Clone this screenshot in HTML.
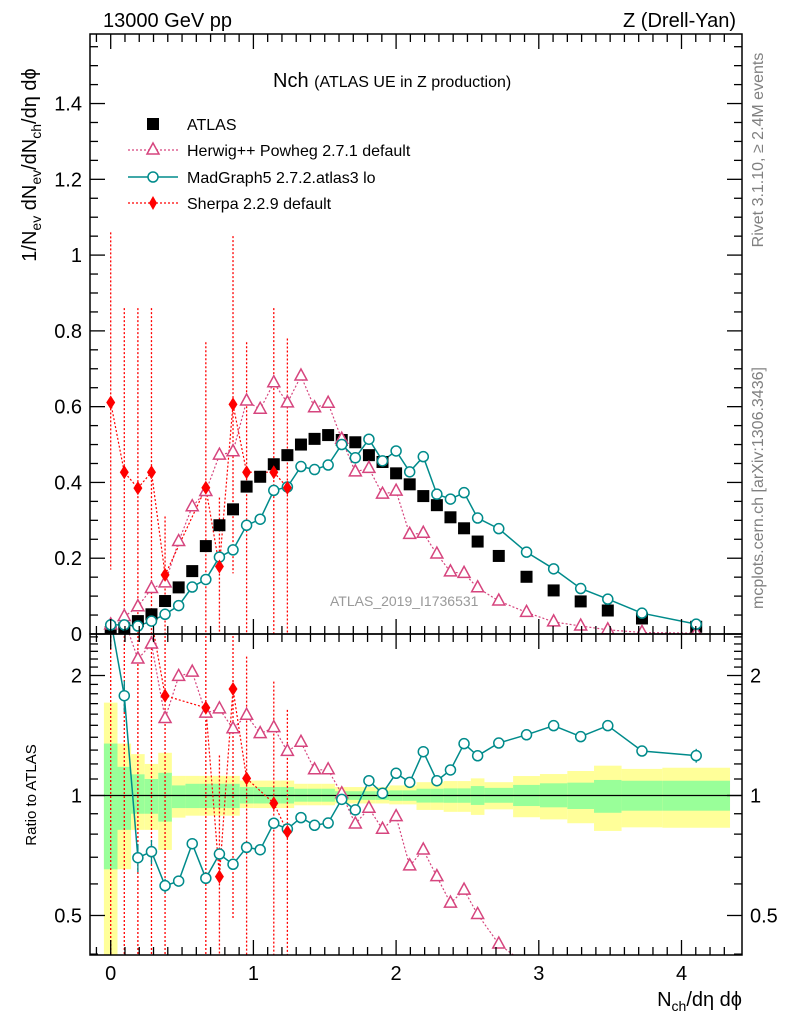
<!DOCTYPE html>
<html><head><meta charset="utf-8">
<style>
html,body{margin:0;padding:0;background:#fff;width:786px;height:1024px;overflow:hidden;}
svg{display:block;font-family:"Liberation Sans",sans-serif;}
</style></head>
<body>
<svg id="chart" width="786" height="1024" viewBox="0 0 786 1024" xmlns="http://www.w3.org/2000/svg">
<defs>
<clipPath id="clipMain"><rect x="90" y="34" width="652" height="600"/></clipPath>
<clipPath id="clipRatio"><rect x="90" y="634" width="652" height="321"/></clipPath>
</defs>
<g id="bands" clip-path="url(#clipRatio)"></g>
<line x1="90" y1="795.5" x2="742" y2="795.5" stroke="#000" stroke-width="1.3"/>
<g id="mainG" clip-path="url(#clipMain)"></g>
<g id="ratioG" clip-path="url(#clipRatio)"></g>
<rect x="90" y="34" width="652" height="600" fill="none" stroke="#000" stroke-width="1.5"/>
<rect x="90" y="634" width="652" height="321" fill="none" stroke="#000" stroke-width="1.5"/>
<g id="axes"></g>

<text x="103" y="27" font-size="20">13000 GeV pp</text>
<text x="736" y="27" font-size="20" text-anchor="end">Z (Drell-Yan)</text>
<text x="273" y="87" font-size="20">Nch <tspan font-size="16">(ATLAS UE in Z production)</tspan></text>
<text x="330" y="606" font-size="14" fill="#999">ATLAS_2019_I1736531</text>

<g>
  <g>
    <rect x="147" y="118" width="12" height="12" fill="#000"/>
    <text x="187" y="130" font-size="16">ATLAS</text>
  </g>
  <g>
    <line x1="128" y1="150" x2="178" y2="150" stroke="#d6457e" stroke-width="1.2" stroke-dasharray="2,2"/>
    <path d="M153,143 L159,154 L147,154 Z" fill="#fff" stroke="#d6457e" stroke-width="1.5"/>
    <text x="187" y="156" font-size="16">Herwig++ Powheg 2.7.1 default</text>
  </g>
  <g>
    <line x1="128" y1="177" x2="178" y2="177" stroke="#008b8b" stroke-width="1.5"/>
    <circle cx="153" cy="177" r="5" fill="#fff" stroke="#008b8b" stroke-width="1.5"/>
    <text x="187" y="183" font-size="16">MadGraph5 2.7.2.atlas3 lo</text>
  </g>
  <g>
    <line x1="128" y1="203" x2="178" y2="203" stroke="#ff0000" stroke-width="1.2" stroke-dasharray="2,2"/>
    <path d="M153,196 L157,203 L153,210 L149,203 Z" fill="#ff0000"/>
    <text x="187" y="209" font-size="16">Sherpa 2.2.9 default</text>
  </g>
</g>

<text transform="translate(36,165) rotate(-90)" font-size="20" text-anchor="middle">1/N<tspan font-size="14" dy="5">ev</tspan><tspan dy="-5"> dN</tspan><tspan font-size="14" dy="5">ev</tspan><tspan dy="-5">/dN</tspan><tspan font-size="14" dy="5">ch</tspan><tspan dy="-5">/dη dϕ</tspan></text>
<text transform="translate(36,795) rotate(-90)" font-size="15" text-anchor="middle">Ratio to ATLAS</text>
<text x="742" y="1006" font-size="20" text-anchor="end">N<tspan font-size="14" dy="5">ch</tspan><tspan dy="-5">/dη dϕ</tspan></text>
<text transform="translate(763,150) rotate(-90)" font-size="16" fill="#808080" text-anchor="middle">Rivet 3.1.10, ≥ 2.4M events</text>
<text transform="translate(763,488) rotate(-90)" font-size="16" fill="#808080" text-anchor="middle">mcplots.cern.ch [arXiv:1306.3436]</text>
</svg>
<script>
const binEdges=[-0.0476,0.0476,0.1429,0.2381,0.3333,0.4286,0.5238,0.619,0.7143,0.8095,0.9048,1.0,1.0952,1.1905,1.2857,1.381,1.4762,1.5714,1.6667,1.7619,1.8571,1.9524,2.0476,2.1429,2.2381,2.3333,2.4286,2.5238,2.619,2.82,3.008,3.2,3.387,3.58,3.866,4.34];
const atlasVals=[0.005,0.015,0.034,0.052,0.087,0.123,0.166,0.232,0.287,0.329,0.389,0.415,0.448,0.472,0.5,0.515,0.525,0.512,0.506,0.472,0.454,0.424,0.395,0.364,0.34,0.308,0.279,0.244,0.206,0.151,0.115,0.086,0.062,0.041,0.019];
const herwigVals=[0.024,0.046,0.072,0.12,0.135,0.244,0.336,0.376,0.472,0.481,0.615,0.593,0.663,0.61,0.681,0.597,0.609,0.514,0.428,0.437,0.369,0.377,0.263,0.266,0.211,0.164,0.16,0.122,0.087,0.057,0.032,0.021,0.011,0.004,0.002];
const madgraphVals=[0.024,0.024,0.021,0.034,0.052,0.075,0.124,0.144,0.203,0.222,0.287,0.303,0.379,0.388,0.442,0.434,0.446,0.5,0.465,0.514,0.457,0.483,0.428,0.468,0.369,0.356,0.373,0.306,0.278,0.216,0.172,0.12,0.092,0.055,0.026];
const sherpaVals=[0.611,0.427,0.385,0.427,0.156,null,null,0.386,0.178,0.606,0.427,null,0.427,0.386];
const sherpaHi=[1.06,0.86,0.86,0.86,0.31,null,null,0.77,0.36,1.05,0.77,null,0.86,0.78];
const sherpaLo=[0.17,0,0,0,0,null,null,0,0,0.16,0,null,0,0];
const madgraphRatio=[3.5,1.78,0.698,0.723,0.594,0.61,0.757,0.62,0.713,0.672,0.741,0.731,0.852,0.824,0.88,0.842,0.853,0.978,0.92,1.089,1.013,1.137,1.079,1.288,1.089,1.159,1.349,1.258,1.354,1.42,1.497,1.405,1.497,1.293,1.259];
const madgraphRatioErr=[0.1,0.09,0.08,0.07,0.04,0.03,0.02,0.02,0.02,0.02,0.015,0.015,0.015,0.015,0.015,0.015,0.015,0.015,0.015,0.015,0.015,0.015,0.015,0.015,0.015,0.015,0.015,0.015,0.015,0.015,0.02,0.02,0.03,0.03,0.04];
const herwigRatio=[4,3,2.2,2.4,1.56,1.99,2.04,1.61,1.65,1.47,1.59,1.43,1.48,1.29,1.36,1.16,1.16,1.01,0.848,0.929,0.823,0.885,0.666,0.73,0.626,0.537,0.579,0.503,0.424,0.35,0.25,0.2,0.15,0.1,0.1];
const sherpaRatio=[9,9,9,9,1.78,null,null,1.66,0.626,1.85,1.104,null,0.956,0.811];
const sherpaRatioHi=[9,9,9,9,9,null,null,9,1.26,9,2.23,null,1.93,1.64];
const sherpaRatioLo=[0.1,0.1,0.1,0.1,0.1,null,null,0.1,0.1,0.49,0.1,null,0.1,0.1];
const yellowTop=[1.71,1.35,1.27,1.2,1.28,1.12,1.12,1.12,1.12,1.12,1.09,1.09,1.09,1.09,1.07,1.07,1.07,1.05,1.05,1.05,1.05,1.06,1.06,1.08,1.08,1.087,1.087,1.104,1.08,1.119,1.132,1.152,1.188,1.166,1.174];
const greenTop=[1.35,1.18,1.13,1.1,1.14,1.06,1.07,1.07,1.07,1.07,1.05,1.05,1.05,1.05,1.04,1.04,1.04,1.025,1.025,1.025,1.025,1.03,1.03,1.04,1.04,1.042,1.042,1.056,1.045,1.063,1.073,1.077,1.094,1.089,1.089];
const greenBot=[0.653,0.82,0.9,0.9,0.86,0.93,0.93,0.93,0.93,0.93,0.955,0.955,0.955,0.955,0.965,0.965,0.965,0.975,0.975,0.975,0.975,0.97,0.97,0.96,0.96,0.959,0.959,0.947,0.959,0.941,0.934,0.925,0.905,0.916,0.916];
const yellowBot=[0.3,0.653,0.82,0.82,0.73,0.88,0.89,0.89,0.89,0.89,0.93,0.93,0.93,0.93,0.945,0.945,0.945,0.955,0.955,0.955,0.955,0.95,0.95,0.92,0.92,0.91,0.91,0.894,0.923,0.882,0.871,0.852,0.815,0.832,0.83];
const mainTicks=["0","0.2","0.4","0.6","0.8","1","1.2","1.4"];
const xTicks=["0","1","2","3","4"];
const ratioTicks=["0.5","1","2"];

const NS="http://www.w3.org/2000/svg";
const X=v=>110.7+v*142.7;
const Y=v=>634-v*378.9;
const YR=r=>Math.min(965,Math.max(620,795.5-173.1*Math.log(r)));
const centers=atlasVals.map((_,i)=>(binEdges[i]+binEdges[i+1])/2);
function mk(parent,tag,attrs){const e=document.createElementNS(NS,tag);for(const k in attrs)e.setAttribute(k,attrs[k]);parent.appendChild(e);return e;}
const mainG=document.getElementById('mainG'),ratioG=document.getElementById('ratioG'),bandsG=document.getElementById('bands'),axes=document.getElementById('axes');

atlasVals.forEach((_,i)=>{
  const x0=X(binEdges[i]),w=X(binEdges[i+1])-x0;
  let r=mk(bandsG,'rect',{x:x0,y:YR(yellowTop[i]),width:w,height:YR(yellowBot[i])-YR(yellowTop[i]),fill:'#ffff99'});
  
  
  r=mk(bandsG,'rect',{x:x0,y:YR(greenTop[i]),width:w,height:YR(greenBot[i])-YR(greenTop[i]),fill:'#99ff99'});
  
  
});

function polyline(parent,vals,yf,color,dash,width,name){
  const pts=[];
  vals.forEach((v,i)=>{if(v!==null)pts.push(X(centers[i]).toFixed(1)+','+yf(v).toFixed(1));});
  const p=mk(parent,'polyline',{points:pts.join(' '),fill:'none',stroke:color,'stroke-width':width});
  if(dash)p.setAttribute('stroke-dasharray',dash);
  
  
}
function tri(parent,x,y,name){
  const p=mk(parent,'path',{d:`M${x},${y-7} L${x+6},${y+4} L${x-6},${y+4} Z`,fill:'#fff',stroke:'#d6457e','stroke-width':1.5});
  
  
}
function circ(parent,x,y,name){
  const c=mk(parent,'circle',{cx:x,cy:y,r:5,fill:'#fff',stroke:'#008b8b','stroke-width':1.5});
  
  
}
function diam(parent,x,y,name){
  const d=mk(parent,'path',{d:`M${x},${y-7} L${x+4.5},${y} L${x},${y+7} L${x-4.5},${y} Z`,fill:'#ff0000'});
  
  
}
function vline(parent,x,y1,y2,color,dash,name){
  const l=mk(parent,'line',{x1:x,x2:x,y1:y1,y2:y2,stroke:color,'stroke-width':1.3});
  if(dash)l.setAttribute('stroke-dasharray',dash);
  
  
}

sherpaVals.forEach((v,i)=>{if(v!==null)vline(mainG,X(centers[i]),Y(sherpaHi[i]),Y(sherpaLo[i]),'#ff0000','2,2','sherpa-error-bar');});
polyline(mainG,herwigVals,Y,'#d6457e','2,2',1.2,'herwig-line');
polyline(mainG,madgraphVals,Y,'#008b8b',null,1.5,'madgraph-line');
polyline(mainG,sherpaVals,Y,'#ff0000','2,2',1.2,'sherpa-line');
atlasVals.forEach((v,i)=>{
  const s=mk(mainG,'rect',{x:X(centers[i])-6,y:Y(v)-6,width:12,height:12,fill:'#000'});
  
  
});
herwigVals.forEach((v,i)=>tri(mainG,X(centers[i]),Y(v),'herwig-point'));
madgraphVals.forEach((v,i)=>circ(mainG,X(centers[i]),Y(v),'madgraph-point'));
sherpaVals.forEach((v,i)=>{if(v!==null)diam(mainG,X(centers[i]),Y(v),'sherpa-point');});

sherpaRatio.forEach((v,i)=>{if(v!==null)vline(ratioG,X(centers[i]),YR(sherpaRatioHi[i]),YR(sherpaRatioLo[i]),'#ff0000','2,2','sherpa-ratio-error-bar');});
madgraphRatio.forEach((v,i)=>{
  const e=madgraphRatioErr[i];
  vline(ratioG,X(centers[i]),YR(v*(1+e)),YR(v*(1-e)),'#008b8b',null,'madgraph-ratio-error-bar');
});
polyline(ratioG,herwigRatio,YR,'#d6457e','2,2',1.2,'herwig-ratio-line');
polyline(ratioG,madgraphRatio,YR,'#008b8b',null,1.5,'madgraph-ratio-line');
polyline(ratioG,sherpaRatio,YR,'#ff0000','2,2',1.2,'sherpa-ratio-line');
herwigRatio.forEach((v,i)=>tri(ratioG,X(centers[i]),YR(v),'herwig-ratio-point'));
madgraphRatio.forEach((v,i)=>circ(ratioG,X(centers[i]),YR(v),'madgraph-ratio-point'));
sherpaRatio.forEach((v,i)=>{if(v!==null)diam(ratioG,X(centers[i]),YR(v),'sherpa-ratio-point');});

function tick(x1,y1,x2,y2){mk(axes,'line',{x1,y1,x2,y2,stroke:'#000','stroke-width':1.3});}
for(let k=-1;k<=43;k++){
  const v=k/10,x=X(v); if(x<90||x>742)continue;
  const len=(k%10===0)?15:8;
  tick(x,634,x,634-len);tick(x,34,x,34+len);tick(x,955,x,955-len);tick(x,634,x,634+len);
}
for(let k=0;k<=31;k++){
  const v=k*0.05,y=Y(v); if(y<34)continue;
  const len=(k%4===0)?15:8;
  tick(90,y,90+len,y);tick(742,y,742-len,y);
}
mainTicks.forEach(t=>{
  const el=mk(axes,'text',{x:82,y:Y(parseFloat(t))+7,'font-size':20,'text-anchor':'end'});el.textContent=t;
  
  
});
xTicks.forEach(t=>{
  const el=mk(axes,'text',{x:X(parseFloat(t)),y:980,'font-size':20,'text-anchor':'middle'});el.textContent=t;
  
  
});
for(let k=4;k<=25;k++){
  const r=k/10,y=795.5-173.1*Math.log(r); if(y<634||y>955)continue;
  const major=(k===5||k===10||k===20);const len=major?15:8;
  tick(90,y,90+len,y);tick(742,y,742-len,y);
}
ratioTicks.forEach(t=>{
  const y=YR(parseFloat(t))+7;
  let el=mk(axes,'text',{x:82,y:y,'font-size':20,'text-anchor':'end'});el.textContent=t;
  
  
  el=mk(axes,'text',{x:750,y:y,'font-size':20,'text-anchor':'start'});el.textContent=t;
  
  
});
</script>
</body></html>
